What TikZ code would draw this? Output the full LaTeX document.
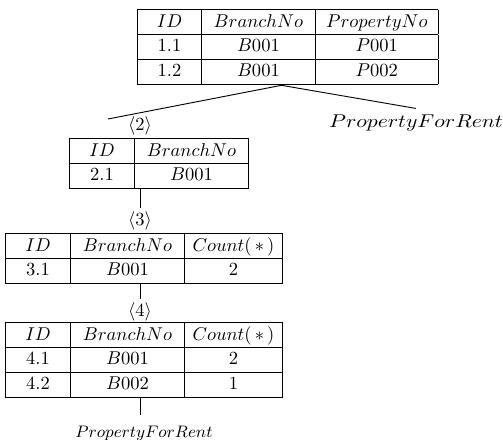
\documentclass[tikz,border=0pt]{standalone}
\usepackage{array}
\usepackage{graphicx}
\usetikzlibrary{positioning,calc}
\setlength{\tabcolsep}{0pt}
\setlength{\arrayrulewidth}{0.5pt}
\renewcommand{\arraystretch}{1.10}

\begin{document}
\begin{tikzpicture}[x=0.54pt,y=-0.54pt,
  font=\fontsize{9.8}{11.76}\selectfont,
  tbl/.style={anchor=north west,inner sep=0pt},
  tag/.style={inner sep=2pt,font=\normalsize},
  rel/.style={inner sep=3pt,font=\normalsize},
  link/.style={line width=0.5pt}]
  \useasboundingbox (0,0) rectangle (503,439);
  % query tree, top to bottom
  \node[tbl] (t1) at (137,9) {\begin{tabular}{|w{c}{33.7pt}|w{c}{61.3pt}|w{c}{65.6pt}|}\hline
    $ID$ & $BranchNo$ & $PropertyNo$\\\hline
    $1.1$ & $B001$ & $P001$\\\hline
    $1.2$ & $B001$ & $P002$\\\hline
  \end{tabular}};
  \node[tbl] (t2) at (69,138) {\begin{tabular}{|w{c}{34.3pt}|w{c}{61.3pt}|}\hline
    $ID$ & $BranchNo$\\\hline
    $2.1$ & $B001$\\\hline
  \end{tabular}};
  \node[tbl] (t3) at (5,233) {\begin{tabular}{|w{c}{34.3pt}|w{c}{61.3pt}|w{c}{52.1pt}|}\hline
    $ID$ & $BranchNo$ & $Count(\,\ast\,)$\\\hline
    $3.1$ & $B001$ & $2$\\\hline
  \end{tabular}};
  \node[tbl] (t4) at (5,322) {\begin{tabular}{|w{c}{34.3pt}|w{c}{61.3pt}|w{c}{52.1pt}|}\hline
    $ID$ & $BranchNo$ & $Count(\,\ast\,)$\\\hline
    $4.1$ & $B001$ & $2$\\\hline
    $4.2$ & $B002$ & $1$\\\hline
  \end{tabular}};
  \node[rel] (rel1) at (416,122.5) {\scalebox{1.17}[1]{$PropertyForRent$}};
  \node[tag] (tag2) at (140,126) {$\langle 2\rangle$};
  \node[tag] (tag3) at (140,221) {$\langle 3\rangle$};
  \node[tag] (tag4) at (140,312) {$\langle 4\rangle$};
  \node[rel,inner sep=5.7pt,font=\fontsize{9.5}{11.4}\selectfont] (rel2) at (144,433.2) {$PropertyForRent$};
  \coordinate (fork) at ($(t1.south)+(-6.5,0)$);
  \coordinate (cut) at (108,119);
  \draw[link] (cut) -- (fork) -- (rel1.north);
  \draw[link] (tag3 |- t2.south) -- (tag3.north);
  \draw[link] (tag4 |- t3.south) -- (tag4.north);
  \draw[link] (tag4 |- t4.south) -- (tag4 |- rel2.north);
\end{tikzpicture}
\end{document}
